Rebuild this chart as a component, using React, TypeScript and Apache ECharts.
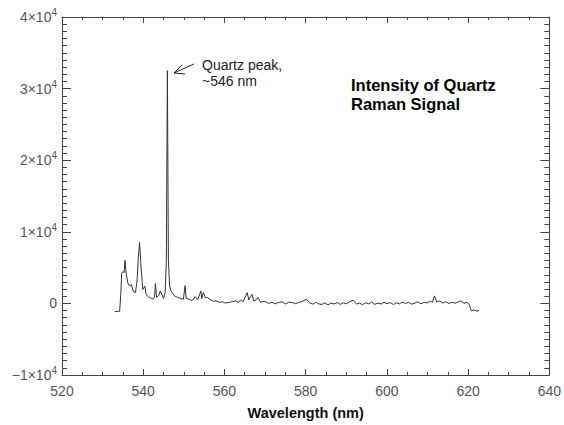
import React, { useEffect, useRef } from "react";
import * as echarts from "echarts";

const wavelength = [
  533.0, 534.2, 534.5, 534.7, 535.0, 535.3, 535.5, 535.8, 536.2, 536.6, 537.1, 537.5, 538.1, 538.5, 538.8,
  539.1, 539.5, 539.9, 540.4, 540.7, 541.1, 541.5, 542.0, 542.4, 542.8, 543.0, 543.3, 543.8, 544.2, 544.6,
  545.0, 545.4, 545.7, 545.95, 546.2, 546.5, 546.8, 547.1, 547.7, 548.5, 549.3, 549.9, 550.3, 550.6, 551.3,
  552.0, 552.8, 553.4, 554.2, 554.4, 554.8, 555.3, 555.8, 556.6, 557.3, 557.9, 558.7, 559.5, 560.3, 561.1,
  562.0, 562.8, 563.4, 564.0, 564.6, 565.6, 566.0, 566.8, 567.2, 567.8, 568.3, 568.9, 569.5, 570.1, 570.9,
  571.7, 572.5, 573.4, 574.2, 575.0, 575.8, 576.6, 577.5, 578.3, 579.1, 580.2, 581.0, 581.8, 582.5, 583.2,
  584.0, 584.7, 585.5, 586.2, 587.0, 587.8, 588.5, 589.3, 590.0, 590.8, 591.7, 592.5, 593.2, 594.0, 594.8,
  595.5, 596.3, 597.0, 597.8, 598.6, 599.3, 600.0, 600.8, 601.6, 602.3, 603.1, 603.8, 604.6, 605.4, 606.1,
  606.9, 607.6, 608.4, 609.2, 609.9, 610.7, 611.2, 611.7, 612.3, 613.0, 613.8, 614.5, 615.3, 616.0, 616.8,
  617.5, 618.2, 619.0, 619.8, 620.3, 620.8, 621.5, 622.2, 622.7,
];

const intensity = [
  -1130, -1100, 1500, 4220, 4450, 4300, 6030, 4220, 2860, 2450, 2630, 1730, 1500, 3300, 6500,
  8530, 4670, 1950, 2400, 1270, 1000, 820, 700, 590, 900, 2760, 820, 1050, 1730, 1270,
  680, 1500, 6030, 32500, 6030, 2400, 1800, 1500, 1050, 820, 680, 590, 2490, 680, 590,
  360, 950, 500, 1730, 680, 1500, 820, 820, 500, 300, 360, 150, 230, 50, 140,
  250, 360, 100, 500, 230, 1500, 500, 1270, 360, 500, 820, 140, 300, 230, 0,
  180, -60, 140, 220, -80, 160, 140, -40, 140, 260, 590, 60, -100, 150, -60,
  -150, 80, -200, 30, -80, 120, -150, 100, -60, 200, 450, -100, 60, -180, 100,
  -60, 180, -130, 50, -90, 160, -40, 120, -160, 90, -70, 200, -20, 150, -120,
  60, 220, -50, 150, 60, 300, 150, 1050, 200, 350, 50, 250, -30, 180, 20,
  200, 350, 0, 150, -200, -1050, -900, -1100, -950,
];

const xTicks = [520, 540, 560, 580, 600, 620, 640];
const yTicks = [-10000, 0, 10000, 20000, 30000, 40000];

const labelColor = "#555";
const axisColor = "#444";

export default function App() {
  const ref = useRef<HTMLDivElement>(null);
  useEffect(() => {
    if (!ref.current) return;
    const chart = echarts.init(ref.current, undefined, { renderer: "svg" });
    const data = wavelength.map((w, i) => [w, intensity[i]]);
    const yFmt = (v: number) => {
      if (v === 0) return "{b|0}";
      const n = Math.abs(v) / 10000;
      return `{b|${v < 0 ? "−" : ""}${n}×10}{s|4}`;
    };
    const baseX = {
      type: "value" as const,
      min: xTicks[0],
      max: xTicks[xTicks.length - 1],
      interval: 20,
      splitLine: { show: false },
      axisLine: { show: true, onZero: false, lineStyle: { color: axisColor, width: 1 } },
      axisTick: { show: true, inside: true, length: 6, lineStyle: { color: axisColor } },
      minorTick: { show: true, splitNumber: 4, length: 3, lineStyle: { color: axisColor } },
    };
    const baseY = {
      type: "value" as const,
      min: yTicks[0],
      max: yTicks[yTicks.length - 1],
      interval: 10000,
      splitLine: { show: false },
      axisLine: { show: true, onZero: false, lineStyle: { color: axisColor, width: 1 } },
      axisTick: { show: true, inside: true, length: 9, lineStyle: { color: axisColor } },
      minorTick: { show: true, splitNumber: 10, length: 5, lineStyle: { color: axisColor } },
    };
    chart.setOption({
      animation: false,
      backgroundColor: "#fff",
      grid: { left: 62, top: 17, right: 12, bottom: 40 },
      xAxis: [
        {
          ...baseX,
          position: "bottom",
          name: "Wavelength (nm)",
          nameLocation: "middle",
          nameGap: 30,
          nameTextStyle: { fontFamily: "Liberation Sans", fontWeight: "bold", fontSize: 14.5, color: "#111" },
          axisLabel: { margin: 9, fontFamily: "Liberation Sans", fontSize: 14, color: labelColor },
        },
        { ...baseX, position: "top", axisLabel: { show: false } },
      ],
      yAxis: [
        {
          ...baseY,
          position: "left",
          axisLabel: {
            margin: 5,
            formatter: yFmt,
            rich: {
              b: { fontFamily: "Liberation Sans", fontSize: 14, color: labelColor },
              s: { fontFamily: "Liberation Sans", fontSize: 10, color: labelColor, padding: [0, 0, 9, 0] },
            },
          },
        },
        { ...baseY, position: "right", axisLabel: { show: false } },
      ],
      series: [
        {
          type: "line",
          data,
          xAxisIndex: 0,
          yAxisIndex: 0,
          showSymbol: false,
          symbol: "none",
          lineStyle: { color: "#333", width: 1 },
        },
      ],
      graphic: [
        {
          type: "text",
          left: 202,
          top: 57,
          style: {
            text: "Quartz peak,\n~546 nm",
            font: "14px 'Liberation Sans'",
            fill: "#222",
            lineHeight: 16,
          },
        },
        { type: "line", shape: { x1: 194, y1: 64, x2: 174, y2: 73 }, style: { stroke: "#222", lineWidth: 1 } },
        {
          type: "polyline",
          shape: { points: [[182, 65], [174, 73], [185, 74]] },
          style: { stroke: "#222", lineWidth: 1, fill: "none" },
        },
        {
          type: "text",
          left: 351,
          top: 75,
          style: {
            text: "Intensity of Quartz\nRaman Signal",
            font: "bold 16.5px 'Liberation Sans'",
            fill: "#000",
            lineHeight: 19,
          },
        },
      ],
    });
    return () => chart.dispose();
  }, []);
  return <div ref={ref} style={{ position: "fixed", left: 0, top: 0, width: 564, height: 425 }} />;
}
